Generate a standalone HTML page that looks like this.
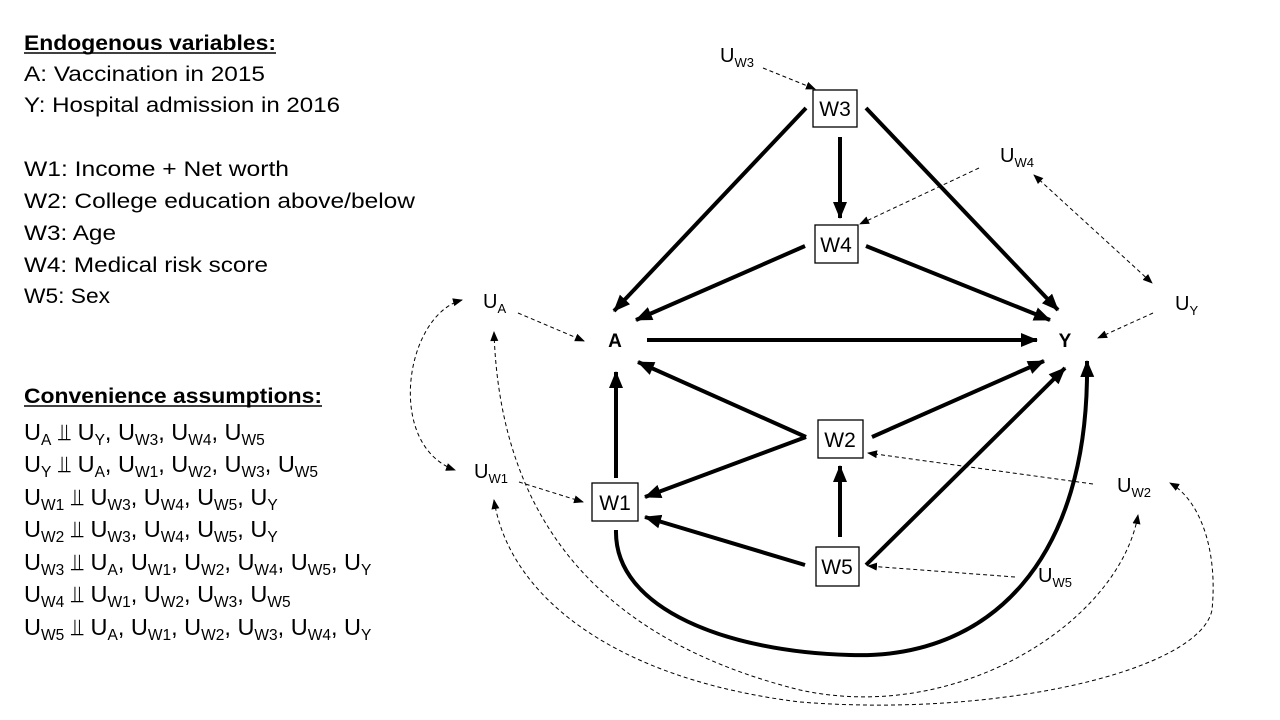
<!DOCTYPE html>
<html><head><meta charset="utf-8"><style>
html,body{margin:0;padding:0;background:#fff;}
svg{display:block;font-family:"Liberation Sans","DejaVu Sans",sans-serif;}
</style></head><body>
<svg width="1280" height="720" viewBox="0 0 1280 720" xmlns="http://www.w3.org/2000/svg">
<defs>
<marker id="ah" markerUnits="userSpaceOnUse" markerWidth="20" markerHeight="16" refX="16" refY="7" orient="auto"><path d="M0,0 L17,7 L0,14 Z" fill="#000"/></marker>
<marker id="dh" markerUnits="userSpaceOnUse" markerWidth="12" markerHeight="10" refX="9" refY="4" orient="auto"><path d="M0,0 L10,4 L0,8 Z" fill="#000"/></marker>
<marker id="ds" markerUnits="userSpaceOnUse" markerWidth="12" markerHeight="10" refX="1" refY="4" orient="auto"><path d="M10,0 L0,4 L10,8 Z" fill="#000"/></marker>
</defs>

<!-- left text -->
<g font-size="21.5" fill="#000">
<text x="24" y="50" font-weight="bold" textLength="252" lengthAdjust="spacingAndGlyphs">Endogenous variables:</text>
<line x1="24" y1="53" x2="276" y2="53" stroke="#000" stroke-width="1.5"/>
<text x="24" y="81" textLength="241" lengthAdjust="spacingAndGlyphs">A: Vaccination in 2015</text>
<text x="24" y="112" textLength="316" lengthAdjust="spacingAndGlyphs">Y: Hospital admission in 2016</text>
<text x="24" y="176" textLength="265" lengthAdjust="spacingAndGlyphs">W1: Income + Net worth</text>
<text x="24" y="208" textLength="391" lengthAdjust="spacingAndGlyphs">W2: College education above/below</text>
<text x="24" y="240" textLength="92" lengthAdjust="spacingAndGlyphs">W3: Age</text>
<text x="24" y="272" textLength="244" lengthAdjust="spacingAndGlyphs">W4: Medical risk score</text>
<text x="24" y="303" textLength="86" lengthAdjust="spacingAndGlyphs">W5: Sex</text>
<text x="24" y="403" font-weight="bold" textLength="298" lengthAdjust="spacingAndGlyphs">Convenience assumptions:</text>
<line x1="24" y1="406" x2="322" y2="406" stroke="#000" stroke-width="1.5"/>
</g>
<g font-size="23.5" fill="#000">
<text x="24" y="440">U<tspan font-size="15.5" dy="5">A</tspan><tspan dy="-5"> ⫫ U</tspan><tspan font-size="15.5" dy="5">Y</tspan><tspan dy="-5">, U</tspan><tspan font-size="15.5" dy="5">W3</tspan><tspan dy="-5">, U</tspan><tspan font-size="15.5" dy="5">W4</tspan><tspan dy="-5">, U</tspan><tspan font-size="15.5" dy="5">W5</tspan></text>
<text x="24" y="472">U<tspan font-size="15.5" dy="5">Y</tspan><tspan dy="-5"> ⫫ U</tspan><tspan font-size="15.5" dy="5">A</tspan><tspan dy="-5">, U</tspan><tspan font-size="15.5" dy="5">W1</tspan><tspan dy="-5">, U</tspan><tspan font-size="15.5" dy="5">W2</tspan><tspan dy="-5">, U</tspan><tspan font-size="15.5" dy="5">W3</tspan><tspan dy="-5">, U</tspan><tspan font-size="15.5" dy="5">W5</tspan></text>
<text x="24" y="505">U<tspan font-size="15.5" dy="5">W1</tspan><tspan dy="-5"> ⫫ U</tspan><tspan font-size="15.5" dy="5">W3</tspan><tspan dy="-5">, U</tspan><tspan font-size="15.5" dy="5">W4</tspan><tspan dy="-5">, U</tspan><tspan font-size="15.5" dy="5">W5</tspan><tspan dy="-5">, U</tspan><tspan font-size="15.5" dy="5">Y</tspan></text>
<text x="24" y="537">U<tspan font-size="15.5" dy="5">W2</tspan><tspan dy="-5"> ⫫ U</tspan><tspan font-size="15.5" dy="5">W3</tspan><tspan dy="-5">, U</tspan><tspan font-size="15.5" dy="5">W4</tspan><tspan dy="-5">, U</tspan><tspan font-size="15.5" dy="5">W5</tspan><tspan dy="-5">, U</tspan><tspan font-size="15.5" dy="5">Y</tspan></text>
<text x="24" y="570">U<tspan font-size="15.5" dy="5">W3</tspan><tspan dy="-5"> ⫫ U</tspan><tspan font-size="15.5" dy="5">A</tspan><tspan dy="-5">, U</tspan><tspan font-size="15.5" dy="5">W1</tspan><tspan dy="-5">, U</tspan><tspan font-size="15.5" dy="5">W2</tspan><tspan dy="-5">, U</tspan><tspan font-size="15.5" dy="5">W4</tspan><tspan dy="-5">, U</tspan><tspan font-size="15.5" dy="5">W5</tspan><tspan dy="-5">, U</tspan><tspan font-size="15.5" dy="5">Y</tspan></text>
<text x="24" y="602">U<tspan font-size="15.5" dy="5">W4</tspan><tspan dy="-5"> ⫫ U</tspan><tspan font-size="15.5" dy="5">W1</tspan><tspan dy="-5">, U</tspan><tspan font-size="15.5" dy="5">W2</tspan><tspan dy="-5">, U</tspan><tspan font-size="15.5" dy="5">W3</tspan><tspan dy="-5">, U</tspan><tspan font-size="15.5" dy="5">W5</tspan></text>
<text x="24" y="635">U<tspan font-size="15.5" dy="5">W5</tspan><tspan dy="-5"> ⫫ U</tspan><tspan font-size="15.5" dy="5">A</tspan><tspan dy="-5">, U</tspan><tspan font-size="15.5" dy="5">W1</tspan><tspan dy="-5">, U</tspan><tspan font-size="15.5" dy="5">W2</tspan><tspan dy="-5">, U</tspan><tspan font-size="15.5" dy="5">W3</tspan><tspan dy="-5">, U</tspan><tspan font-size="15.5" dy="5">W4</tspan><tspan dy="-5">, U</tspan><tspan font-size="15.5" dy="5">Y</tspan></text>
</g>

<!-- nodes -->
<g fill="#fff" stroke="#000" stroke-width="1.3">
<rect x="813" y="90" width="44" height="37"/>
<rect x="815" y="225" width="43" height="38"/>
<rect x="818" y="420" width="45" height="38"/>
<rect x="816" y="547" width="43" height="39"/>
<rect x="592" y="483" width="46" height="38"/>
</g>
<g font-size="21" fill="#000" text-anchor="middle">
<text x="835" y="116">W3</text>
<text x="836" y="252">W4</text>
<text x="840" y="447">W2</text>
<text x="837" y="574">W5</text>
<text x="615" y="510">W1</text>
<text x="615" y="347" font-weight="bold" font-size="19">A</text>
<text x="1065" y="347" font-weight="bold" font-size="19">Y</text>
</g>

<!-- thick edges -->
<g stroke="#000" stroke-width="4" fill="none" marker-end="url(#ah)">
<line x1="806" y1="108" x2="614" y2="311"/>
<line x1="866" y1="108" x2="1058" y2="310"/>
<line x1="840" y1="137" x2="840" y2="218"/>
<line x1="805" y1="246" x2="636" y2="320"/>
<line x1="866" y1="246" x2="1050" y2="320"/>
<line x1="647" y1="340" x2="1037" y2="340"/>
<line x1="806" y1="437" x2="638" y2="362"/>
<line x1="872" y1="437" x2="1044" y2="361"/>
<line x1="806" y1="437" x2="645" y2="497"/>
<line x1="616" y1="478" x2="616" y2="372"/>
<line x1="805" y1="565" x2="645" y2="517"/>
<line x1="840" y1="537" x2="840" y2="466"/>
<line x1="866" y1="565" x2="1065" y2="368"/>
<path d="M616,530 C614,610 730,652 850,655 C990,660 1090,560 1087,361"/>
</g>

<!-- U labels -->
<g font-size="20" fill="#000">
<text x="720" y="62">U<tspan font-size="13" dy="5">W3</tspan></text>
<text x="1000" y="162">U<tspan font-size="13" dy="5">W4</tspan></text>
<text x="1175" y="310">U<tspan font-size="13" dy="5">Y</tspan></text>
<text x="483" y="308">U<tspan font-size="13" dy="5">A</tspan></text>
<text x="474" y="478">U<tspan font-size="13" dy="5">W1</tspan></text>
<text x="1117" y="492">U<tspan font-size="13" dy="5">W2</tspan></text>
<text x="1038" y="582">U<tspan font-size="13" dy="5">W5</tspan></text>
</g>

<!-- dashed edges -->
<g stroke="#000" stroke-width="1" stroke-dasharray="4,3" fill="none">
<line x1="763" y1="68" x2="815" y2="89" marker-end="url(#dh)"/>
<line x1="979" y1="168" x2="860" y2="224" marker-end="url(#dh)"/>
<line x1="1034" y1="175" x2="1152" y2="283" marker-start="url(#ds)" marker-end="url(#dh)"/>
<line x1="1153" y1="313" x2="1098" y2="338" marker-end="url(#dh)"/>
<line x1="518" y1="313" x2="584" y2="341" marker-end="url(#dh)"/>
<line x1="519" y1="482" x2="583" y2="502" marker-end="url(#dh)"/>
<line x1="1093" y1="484" x2="868" y2="453" marker-end="url(#dh)"/>
<line x1="1015" y1="577" x2="868" y2="566" marker-end="url(#dh)"/>
<path d="M462,300 C405,315 385,445 455,470" marker-start="url(#ds)" marker-end="url(#dh)"/>
<path d="M494,332 C500,520 600,640 800,690 C960,725 1120,620 1138,515" marker-start="url(#ds)" marker-end="url(#dh)"/>
<path d="M494,500 C510,600 620,680 800,702 C1000,718 1200,670 1212,610 C1218,550 1200,500 1170,483" marker-start="url(#ds)" marker-end="url(#dh)"/>
</g>
</svg>
</body></html>
